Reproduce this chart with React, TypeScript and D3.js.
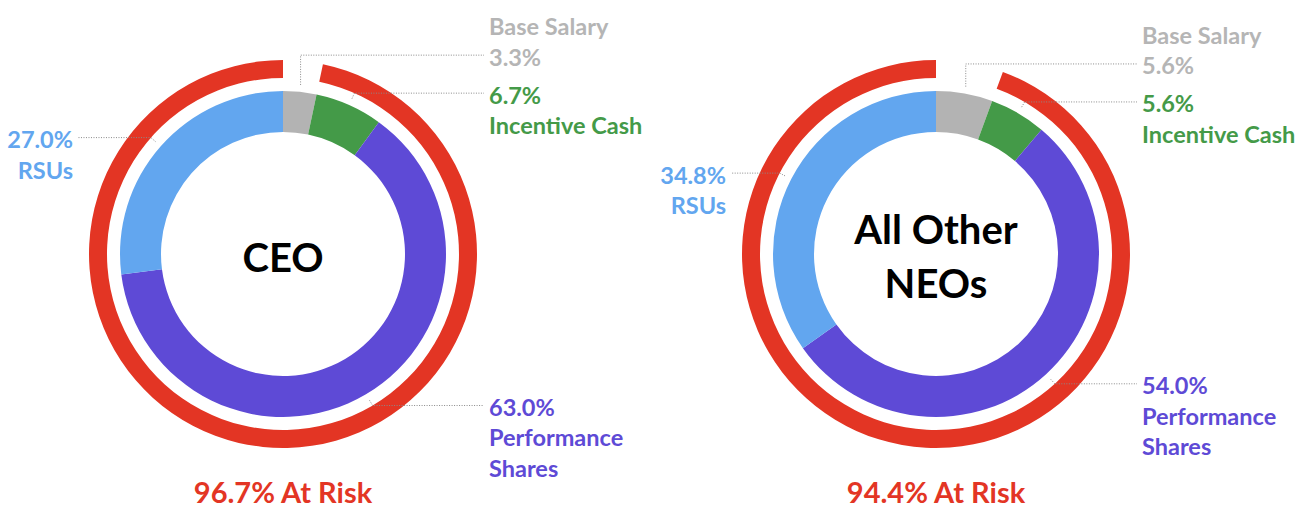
import React from "react";
import * as d3 from "d3";

const categories = ["Base Salary", "Incentive Cash", "Performance Shares", "RSUs"];
const categoryLines = [["Base Salary"], ["Incentive Cash"], ["Performance", "Shares"], ["RSUs"]];
const groups = ["CEO", "All Other NEOs"];
const groupTitleLines = [["CEO"], ["All Other", "NEOs"]];
const ceoValues = [3.3, 6.7, 63.0, 27.0];
const neoValues = [5.6, 5.6, 54.0, 34.8];
const atRisk = [96.7, 94.4];
const colors = ["#b3b3b3", "#449a48", "#5e4ad6", "#62a6ef"];
const textColors = ["#b5b5b5", "#449a48", "#5e4ad6", "#62a6ef"];
const RED = "#e33524";

const W = 1308;
const H = 510;
const FONT = "Lato, 'Noto Sans', sans-serif";

function Donut({ cx, cy, values, titleLines, risk }: any) {
  const rOuter = 163;
  const rInner = 122;
  const ringOuter = 194;
  const ringInner = 176;
  const pie = d3.pie<number>().sort(null).value((d) => d);
  const arcs = pie(values);
  const arcGen = d3.arc<any>().innerRadius(rInner).outerRadius(rOuter);
  const total = d3.sum(values);
  const angle = d3.scaleLinear().domain([0, total]).range([0, 2 * Math.PI]);
  const ringArc = d3.arc<any>().innerRadius(ringInner).outerRadius(ringOuter)({
    startAngle: angle(values[0]),
    endAngle: 2 * Math.PI,
  } as any);

  const pt = (a: number, r: number) => [Math.sin(a) * r, -Math.cos(a) * r];

  const leaders = arcs.map((a, i) => {
    const mid = (a.startAngle + a.endAngle) / 2;
    const p0 = pt(mid, 170);
    const p1 = pt(mid, 176);
    return { i, mid, p0, p1, right: Math.sin(mid) >= 0 };
  });
  const incentiveY = leaders[1].p1[1];

  const lineX = 201;
  const textX = 206;
  const leftLineX = -205;
  const leftTextX = -210;

  return (
    <g transform={`translate(${cx},${cy})`}>
      <path d={ringArc || ""} fill={RED} />
      {arcs.map((a, i) => (
        <path key={i} d={arcGen(a) || ""} fill={colors[i]} />
      ))}
      {leaders.map((l) => {
        const i = l.i;
        const valText = `${values[i].toFixed(1)}%`;
        let path = "";
        let y = l.p1[1];
        let lines: string[] = [];
        let firstBaseline = 0;
        if (i === 0) {
          y = incentiveY - 38;
          path = `M${l.p0[0]},${l.p0[1]}V${y}H${lineX}`;
          lines = [...categoryLines[i], valText];
          firstBaseline = y + 10 - 30 * (lines.length - 1);
        } else if (l.right) {
          path = `M${l.p0[0]},${l.p0[1]}L${l.p1[0]},${l.p1[1]}H${lineX}`;
          lines = [valText, ...categoryLines[i]];
          firstBaseline = y + 10.5;
        } else {
          path = `M${l.p0[0]},${l.p0[1]}L${l.p1[0]},${l.p1[1]}H${leftLineX}`;
          lines = [valText, ...categoryLines[i]];
          firstBaseline = y + 10.5;
        }
        const tx = l.right ? textX : leftTextX;
        return (
          <g key={"l" + i}>
            <path d={path} fill="none" stroke="#8a8a8a" strokeWidth={1} strokeDasharray="1,1.5" />
            <text
              x={tx}
              y={firstBaseline}
              fill={textColors[i]}
              fontFamily={FONT}
              fontWeight={700}
              fontSize={23.5}
              textAnchor={l.right ? "start" : "end"}
            >
              {lines.map((t, k) => (
                <tspan key={k} x={tx} y={firstBaseline + k * 30.5}>
                  {t}
                </tspan>
              ))}
            </text>
          </g>
        );
      })}
      <text textAnchor="middle" fontFamily={FONT} fontWeight={700} fontSize={40} fill="#000">
        {titleLines.map((t: string, k: number) => {
          const base = titleLines.length === 1 ? 17.5 : -10 + k * 54;
          return (
            <tspan key={k} x={0} y={base}>
              {t}
            </tspan>
          );
        })}
      </text>
      <text
        x={0}
        y={249}
        textAnchor="middle"
        fontFamily={FONT}
        fontWeight={700}
        fontSize={29}
        fill={RED}
      >
        {`${risk.toFixed(1)}% At Risk`}
      </text>
    </g>
  );
}

export default function App() {
  const centers = [283, 936];
  const data = [ceoValues, neoValues];
  return (
    <div style={{ position: "absolute", left: 0, top: 0 }}>
      <svg width={W} height={H} style={{ display: "block", background: "#fff" }}>
        {groups.map((g, gi) => (
          <Donut
            key={g}
            cx={centers[gi]}
            cy={254}
            values={data[gi]}
            titleLines={groupTitleLines[gi]}
            risk={atRisk[gi]}
          />
        ))}
      </svg>
    </div>
  );
}
